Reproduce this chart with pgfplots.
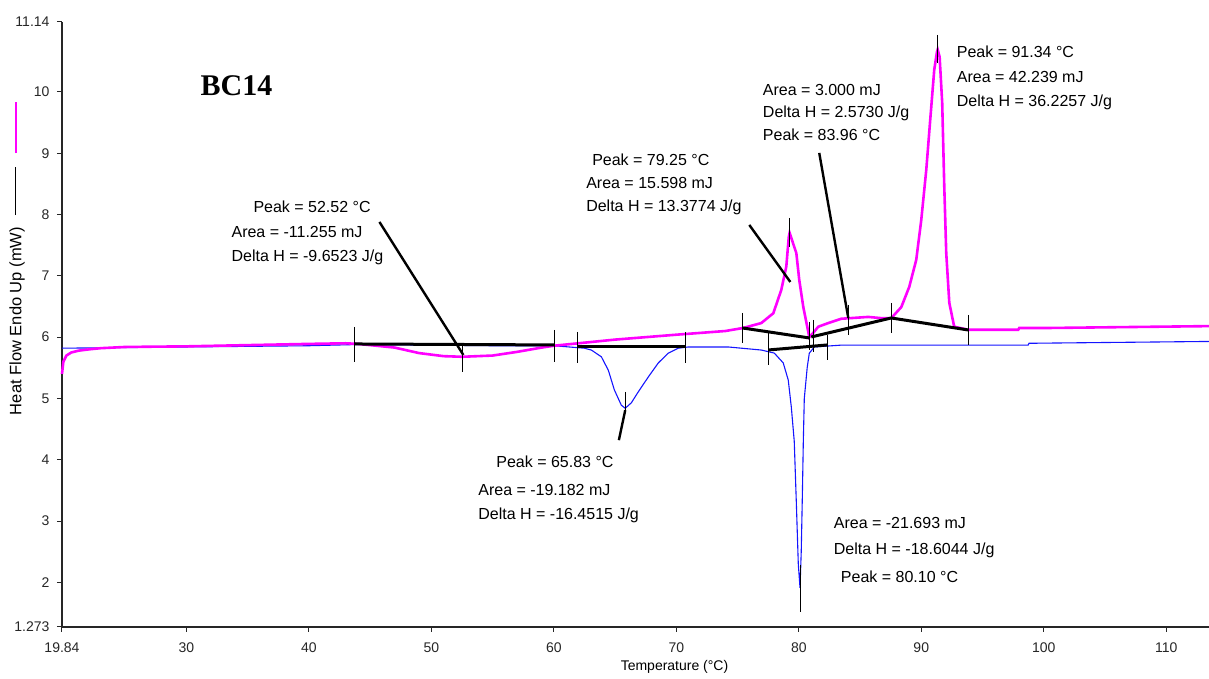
\documentclass[border=0pt]{standalone}
\usepackage{fontspec}
\setmainfont{Liberation Sans}
\newfontfamily\titlefont{Liberation Serif}
\usepackage{pgfplots}
\pgfplotsset{compat=1.18}
\definecolor{heat}{RGB}{255,0,255}
\definecolor{cool}{RGB}{20,20,255}

% one line of a peak annotation, left edge at (T,v)
\newcommand{\ann}[3]{\node[anchor=west, inner sep=0pt, font=\fontsize{16}{19}\selectfont] at (axis cs:#1,#2) {#3};}
% short vertical marker of the analysis software
\newcommand{\vt}[3]{\addplot[black, line width=1pt] coordinates {(#1,#2) (#1,#3)};}

\begin{document}
\begin{tikzpicture}
\begin{axis}[scale only axis, width=1147pt, height=605pt,
  xmin=19.84, xmax=113.5, ymin=1.273, ymax=11.14,
  axis x line*=bottom, axis y line*=left,
  axis line style={line width=1.3pt, black!85},
  tick align=outside, major tick length=5pt,
  tick style={line width=1pt, black!85},
  xtick={19.84,30,40,50,60,70,80,90,100,110},
  xticklabels={19.84,30,40,50,60,70,80,90,100,110},
  ytick={1.273,2,3,4,5,6,7,8,9,10,11.14},
  yticklabels={1.273,2,3,4,5,6,7,8,9,10,11.14},
  ticklabel style={font=\fontsize{14}{16}\selectfont, text=black!85},
  xticklabel style={yshift=-7pt},
  yticklabel style={xshift=-4pt},
  xlabel={Temperature (°C)},
  xlabel style={at={(rel axis cs:0.534,0)}, anchor=center, yshift=-40pt,
    font=\fontsize{14}{16}\selectfont},
  clip=false]

% cooling run (blue)
\addplot[cool, line width=1.1pt] coordinates {
(19.84,5.82) (25,5.83) (30,5.84) (40,5.86) (44,5.88) (50,5.87) (55,5.86)
(60,5.86) (62.49,5.82) (63.06,5.79) (63.88,5.68) (64.45,5.46) (64.94,5.14)
(65.51,4.89) (65.83,4.84) (66.33,4.93) (66.90,5.11) (67.71,5.35) (68.53,5.58)
(69.35,5.74) (70.16,5.82) (70.98,5.84) (74.24,5.84) (75.31,5.82) (76.94,5.79)
(78.00,5.74) (78.73,5.58) (79.14,5.30) (79.39,4.86) (79.63,4.30) (79.80,3.30)
(79.96,2.30) (80.10,1.91) (80.20,2.50) (80.29,3.40) (80.37,4.30) (80.45,5.00)
(80.69,5.51) (80.86,5.74) (81.27,5.84) (83.47,5.87) (98.73,5.87) (98.80,5.90)
(113.5,5.93)};

% heating run (magenta)
\addplot[heat, line width=2.6pt] coordinates {
(19.84,5.40) (19.95,5.60) (20.2,5.70) (20.6,5.75) (21.2,5.78) (22.0,5.80)
(23.0,5.82) (25,5.84) (30,5.85) (35,5.87) (40,5.89) (43,5.90) (44,5.89)
(47,5.83) (49,5.74) (51,5.69) (52.52,5.68) (55,5.70) (57,5.76) (59,5.83)
(60,5.86) (62,5.90) (65,5.96) (70,6.04) (74,6.10) (75.47,6.15) (76.94,6.23)
(77.92,6.39) (78.57,6.77) (78.98,7.15) (79.18,7.63) (79.25,7.70) (79.80,7.37)
(80.04,6.93) (80.37,6.49) (80.69,6.17) (80.86,6.00) (81.18,6.07) (81.59,6.17)
(82.41,6.23) (83.47,6.30) (85.67,6.33) (86.73,6.31) (87.55,6.31) (88.37,6.49)
(89.02,6.82) (89.59,7.26) (90.00,7.91) (90.41,8.73) (90.73,9.54) (91.06,10.36)
(91.28,10.65) (91.34,10.69) (91.50,10.57) (91.71,9.82) (91.88,8.45) (92.04,7.37)
(92.29,6.56) (92.69,6.17) (93.84,6.12) (97.92,6.12) (98.0,6.15) (100.6,6.15)
(113.5,6.18)};

% baselines
\addplot[black, line width=3pt] coordinates {(43.71,5.889) (60.04,5.873)};
\addplot[black, line width=3pt] coordinates {(61.92,5.84) (70.73,5.84)};
\addplot[black, line width=3pt] coordinates {(75.39,6.15) (80.86,5.987)};
\addplot[black, line width=3pt] coordinates {(81.02,6.003) (87.55,6.313)};
\addplot[black, line width=3pt] coordinates {(87.55,6.313) (93.84,6.117)};
\addplot[black, line width=3pt] coordinates {(77.51,5.791) (82.33,5.873)};

% leader lines
\addplot[black, line width=2.4pt] coordinates {(45.76,7.879) (52.61,5.71)};
\addplot[black, line width=2.4pt] coordinates {(65.83,4.81) (65.31,4.32)};
\addplot[black, line width=2.4pt] coordinates {(75.96,7.83) (79.31,6.90)};
\addplot[black, line width=2.4pt] coordinates {(81.67,9.005) (84.04,6.313)};

% markers
\vt{43.71}{6.166}{5.595}
\vt{52.53}{5.873}{5.432}
\vt{60.04}{6.117}{5.595}
\vt{61.92}{6.085}{5.579}
\vt{70.73}{6.085}{5.579}
\vt{65.83}{5.106}{4.81}
\vt{75.39}{6.395}{5.905}
\vt{79.25}{7.944}{7.47}
\vt{80.86}{6.248}{5.791}
\vt{81.18}{6.28}{5.76}
\vt{84.04}{6.525}{6.036}
\vt{87.55}{6.558}{6.069}
\vt{93.84}{6.362}{5.873}
\vt{91.34}{10.93}{10.47}
\vt{77.51}{6.069}{5.547}
\vt{82.33}{6.036}{5.628}
\vt{80.10}{2.284}{1.517}

% y label with the two legend strokes
\node[rotate=90, anchor=east, inner sep=0pt, font=\fontsize{16.5}{19}\selectfont]
  at ([xshift=-45pt]rel axis cs:0,0.868)
  {Heat Flow Endo Up (mW)\hspace{12pt}\textcolor{black}{\rule[0.3em]{48pt}{1.3pt}}\hspace{14pt}\textcolor{heat}{\rule[0.25em]{51pt}{2.6pt}}};

% texts
\node[anchor=west, inner sep=0pt, font=\titlefont\bfseries\fontsize{30}{34}\selectfont] at (axis cs:31.14,10.1) {BC14};
\ann{35.46}{8.124}{Peak = 52.52 °C}
\ann{33.67}{7.716}{Area = -11.255 mJ}
\ann{33.67}{7.308}{Delta H = -9.6523 J/g}
\ann{63.12}{8.891}{Peak = 79.25 °C}
\ann{62.63}{8.515}{Area = 15.598 mJ}
\ann{62.63}{8.124}{Delta H = 13.3774 J/g}
\ann{77.06}{10.03}{Area = 3.000 mJ}
\ann{77.06}{9.657}{Delta H = 2.5730 J/g}
\ann{77.06}{9.30}{Peak = 83.96 °C}
\ann{92.89}{10.65}{Peak = 91.34 °C}
\ann{92.89}{10.245}{Area = 42.239 mJ}
\ann{92.89}{9.837}{Delta H = 36.2257 J/g}
\ann{55.29}{3.964}{Peak = 65.83 °C}
\ann{53.82}{3.507}{Area = -19.182 mJ}
\ann{53.82}{3.10}{Delta H = -16.4515 J/g}
\ann{82.85}{2.969}{Area = -21.693 mJ}
\ann{82.85}{2.53}{Delta H = -18.6044 J/g}
\ann{83.43}{2.09}{Peak = 80.10 °C}
\end{axis}
\pgfresetboundingbox
\path[use as bounding box] (-62pt,-52pt) rectangle (1147pt,627pt);
\end{tikzpicture}
\end{document}
